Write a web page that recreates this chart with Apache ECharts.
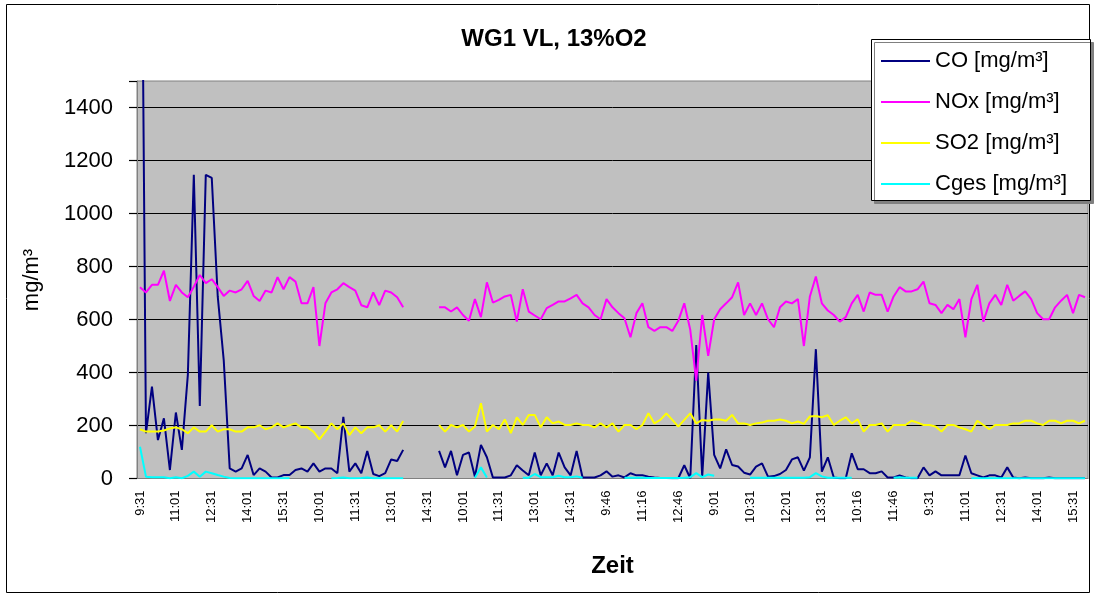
<!DOCTYPE html>
<html>
<head>
<meta charset="utf-8">
<script src="https://cdn.jsdelivr.net/npm/echarts@6/dist/echarts.min.js"></script>
<style>
html,body{margin:0;padding:0;background:#fff;}
#chart{width:1096px;height:597px;}
</style>
</head>
<body>
<div id="chart"></div>
<script>
const categories = [
"9:31","9:46","10:01","10:16","10:31","10:46","11:01","11:16","11:31","11:46","12:01","12:16","12:31","12:46","13:01","13:16","13:31","13:46","14:01","14:16","14:31","14:46","15:01","15:16","15:31","15:46","16:01","16:16",
"9:31","9:46","10:01","10:16","10:31","10:46","11:01","11:16","11:31","11:46","12:01","12:16","12:31","12:46","13:01","13:16","13:31","13:46","14:01","14:16","14:31","14:46",
"9:01","9:16","9:31","9:46","10:01","10:16","10:31","10:46","11:01","11:16","11:31","11:46","12:01","12:16","12:31","12:46","13:01","13:16","13:31","13:46","14:01","14:16","14:31","14:46","15:01","15:16",
"9:16","9:31","9:46","10:01","10:16","10:31","10:46","11:01","11:16","11:31","11:46","12:01","12:16","12:31","12:46","13:01","13:16","13:31","13:46","14:01",
"9:01","9:16","9:31","9:46","10:01","10:16","10:31","10:46","11:01","11:16","11:31","11:46","12:01","12:16","12:31","12:46","13:01","13:16","13:31","13:46","14:01",
"9:31","9:46","10:01","10:16","10:31","10:46","11:01","11:16","11:31","11:46","12:01","12:16","12:31",
"9:01","9:16","9:31","9:46","10:01","10:16","10:31","10:46","11:01","11:16","11:31","11:46","12:01","12:16","12:31","12:46","13:01","13:16","13:31","13:46","14:01","14:16","14:31","14:46","15:01","15:16","15:31","15:46","16:01"
];

const co = [
3000,171,347,145,227,32,249,108,391,1146,274,1146,1134,687,447,38,26,38,89,13,38,26,4,4,13,13,32,38,26,57,26,38,38,20,233,26,57,20,104,17,9,20,72,66,108,
null,null,null,null,null,
104,42,104,12,89,98,7,127,80,4,4,4,12,50,30,12,98,12,57,12,98,42,12,104,4,4,4,12,27,7,12,4,20,12,12,7,4,2,2,1,1,50,1,504,7,400,89,38,110,51,45,22,15,45,
57,7,9,17,32,72,80,30,80,488,26,80,4,1,1,95,35,35,20,20,27,4,4,12,4,1,1,42,12,27,12,12,12,12,87,20,12,4,12,12,4,42,4,1,4,1,1,1,4,1,1,1,1,1,1
];

const nox = [
722,702,731,731,784,670,731,702,684,724,768,737,752,722,689,709,702,714,746,689,670,709,702,760,714,760,743,661,661,722,500,661,702,714,737,722,709,654,646,702,654,709,702,684,646,
null,null,null,null,null,
646,646,630,646,617,595,677,609,740,664,674,687,693,592,714,630,615,601,643,655,668,668,680,693,661,646,617,601,677,646,624,605,533,624,661,571,557,571,571,557,595,661,561,369,617,463,601,639,661,684,740,617,661,617,
661,601,571,646,668,661,677,500,687,762,661,634,617,592,609,661,693,630,702,693,693,630,687,722,706,706,714,743,661,655,624,655,639,677,533,677,731,592,661,693,655,731,671,689,706,677,624,601,601,646,671,693,624,693,684
];

const so2 = [
186,177,177,177,181,189,193,186,171,193,177,177,201,177,186,186,177,177,193,193,201,186,193,208,193,201,208,193,193,177,148,177,208,186,208,164,193,171,193,193,201,177,201,177,217,
null,null,null,null,null,
202,177,202,193,202,177,196,284,177,202,186,223,171,231,202,240,240,193,231,208,215,202,202,208,202,202,193,208,193,208,177,202,202,186,202,246,208,221,246,221,196,221,246,208,221,218,223,223,218,240,208,208,202,208,
211,218,218,223,218,208,215,206,234,236,231,239,202,218,231,208,223,177,202,202,208,177,202,202,202,218,211,202,202,196,177,202,202,193,186,177,218,202,186,202,202,202,208,208,218,218,208,202,218,218,208,218,218,208,218
];

const cges = [
120,7,5,5,5,1,5,1,10,26,7,26,20,13,7,2,1,1,1,1,1,1,1,1,1,1,
null,null,null,null,null,null,
1,2,4,1,1,2,4,1,1,1,1,1,1,
null,null,null,null,null,null,null,null,null,null,null,
3,42,4,
null,null,null,null,null,
3,3,17,5,5,5,10,5,5,8,3,
null,null,null,null,null,null,
3,3,3,3,2,2,2,2,2,2,3,5,20,5,15,10,
null,null,null,null,null,
3,3,3,3,3,3,3,3,3,3,5,20,8,3,3,3,3,3,
null,null,null,null,null,null,
3,5,3,3,3,
null,null,null,null,null,null,null,null,
1,1,1,1,1,1,1,1,1,1,1,1,1,1,1,1,1,1,1,1
];

const seriesNames = ["CO [mg/m³]", "NOx [mg/m³]", "SO2 [mg/m³]", "Cges [mg/m³]"];
const seriesColors = ["#000080", "#FF00FF", "#FFFF00", "#00FFFF"];
const seriesData = [co, nox, so2, cges];

const FONT = "'Liberation Sans', Arial, sans-serif";

const chart = echarts.init(document.getElementById('chart'));
chart.setOption({
  backgroundColor: '#ffffff',
  animation: false,
  title: {
    text: 'WG1 VL, 13%O2',
    left: 554,
    textAlign: 'center',
    top: 27,
    padding: 0,
    textStyle: {fontFamily: FONT, fontSize: 24, fontWeight: 'bold', color: '#000'}
  },
  graphic: [
    {type: 'rect', z: 0, silent: true,
     shape: {x: 6.5, y: 4.5, width: 1083, height: 588},
     style: {fill: 'none', stroke: '#000', lineWidth: 1}},
    {type: 'text', z: 5, silent: true, x: 32, y: 280, rotation: Math.PI / 2,
     style: {text: 'mg/m³', font: "22px 'Liberation Sans', Arial, sans-serif", fill: '#000',
             align: 'center', verticalAlign: 'middle'}},
    {type: 'rect', z: 10, silent: true,
     shape: {x: 871.5, y: 39.5, width: 219, height: 161},
     style: {fill: '#fff', stroke: '#000', lineWidth: 1,
             shadowColor: '#808080', shadowOffsetX: 3, shadowOffsetY: 3, shadowBlur: 0}}
  ],
  legend: {
    z: 20,
    orient: 'vertical',
    left: 881,
    top: 50,
    padding: 0,
    itemWidth: 49,
    itemHeight: 2,
    itemGap: 19,
    icon: 'rect',
    textStyle: {fontFamily: FONT, fontSize: 22, color: '#000', lineHeight: 21},
    data: seriesNames
  },
  grid: {
    left: 137,
    right: 8,
    top: 81,
    bottom: 118.5,
    show: true,
    backgroundColor: '#C0C0C0',
    borderColor: '#808080',
    borderWidth: 1
  },
  xAxis: {
    type: 'category',
    data: categories,
    boundaryGap: true,
    name: 'Zeit',
    nameLocation: 'middle',
    nameGap: 76,
    nameTextStyle: {fontFamily: FONT, fontSize: 24, fontWeight: 'bold', color: '#000'},
    axisLine: {lineStyle: {color: '#808080', width: 1}},
    axisTick: {show: false},
    axisLabel: {interval: 5, rotate: 90, fontFamily: FONT, fontSize: 13, color: '#000', margin: 12},
    splitLine: {show: false}
  },
  yAxis: {
    type: 'value',
    min: 0,
    max: 1500,
    interval: 200,
    axisLine: {show: true, lineStyle: {color: '#808080'}},
    axisTick: {show: true, length: 8, lineStyle: {color: '#000000', width: 1.2}},
    axisLabel: {fontFamily: FONT, fontSize: 22, color: '#000', margin: 24,
                formatter: (v) => (v === 1500 ? '' : String(v))},
    splitLine: {show: true, showMinLine: false, showMaxLine: false, lineStyle: {color: '#000', width: 1}}
  },
  series: seriesData.map((d, k) => ({
    name: seriesNames[k],
    type: 'line',
    data: d,
    showSymbol: false,
    symbol: 'none',
    connectNulls: false,
    lineStyle: {color: seriesColors[k], width: 2},
    itemStyle: {color: seriesColors[k]}
  }))
});
</script>
</body>
</html>
